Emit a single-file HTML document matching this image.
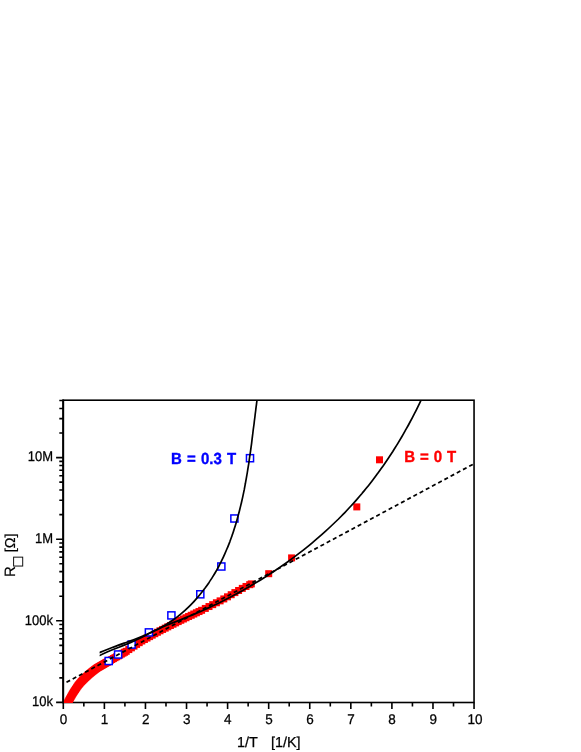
<!DOCTYPE html>
<html><head><meta charset="utf-8"><title>R vs 1/T</title>
<style>
html,body{margin:0;padding:0;background:#fff;}
body{width:581px;height:752px;position:relative;overflow:hidden;font-family:"Liberation Sans",sans-serif;}
</style></head><body>
<svg width="581" height="752" viewBox="0 0 581 752" style="position:absolute;left:0;top:0;will-change:transform" font-family="Liberation Sans, sans-serif" text-rendering="geometricPrecision">
<defs><clipPath id="cp"><rect x="63.849999999999994" y="400.2" width="410.75" height="302.75"/></clipPath><clipPath id="cp2"><rect x="99.6" y="400.2" width="374.45000000000005" height="302.3"/></clipPath></defs>
<rect x="63.3" y="400.2" width="410.75" height="302.3" fill="none" stroke="#000" stroke-width="1.6"/>
<path d="M63.30,702.5 v6.6 M83.84,702.5 v4.1 M104.38,702.5 v6.6 M124.91,702.5 v4.1 M145.45,702.5 v6.6 M165.99,702.5 v4.1 M186.53,702.5 v6.6 M207.06,702.5 v4.1 M227.60,702.5 v6.6 M248.14,702.5 v4.1 M268.68,702.5 v6.6 M289.21,702.5 v4.1 M309.75,702.5 v6.6 M330.29,702.5 v4.1 M350.83,702.5 v6.6 M371.36,702.5 v4.1 M391.90,702.5 v6.6 M412.44,702.5 v4.1 M432.98,702.5 v6.6 M453.51,702.5 v4.1 M474.05,702.5 v6.6 M63.3,702.40 h-7.2 M63.3,677.84 h-4.0 M63.3,663.47 h-4.0 M63.3,653.27 h-4.0 M63.3,645.36 h-4.0 M63.3,638.90 h-4.0 M63.3,633.44 h-4.0 M63.3,628.71 h-4.0 M63.3,624.53 h-4.0 M63.3,620.80 h-7.2 M63.3,596.24 h-4.0 M63.3,581.87 h-4.0 M63.3,571.67 h-4.0 M63.3,563.76 h-4.0 M63.3,557.30 h-4.0 M63.3,551.84 h-4.0 M63.3,547.11 h-4.0 M63.3,542.93 h-4.0 M63.3,539.20 h-7.2 M63.3,514.64 h-4.0 M63.3,500.27 h-4.0 M63.3,490.07 h-4.0 M63.3,482.16 h-4.0 M63.3,475.70 h-4.0 M63.3,470.24 h-4.0 M63.3,465.51 h-4.0 M63.3,461.33 h-4.0 M63.3,457.60 h-7.2 M63.3,433.04 h-4.0 M63.3,418.67 h-4.0 M63.3,408.47 h-4.0 M63.3,400.56 h-4.0" stroke="#000" stroke-width="1.6" fill="none"/>
<path d="M63.15,399.4 V703.3" stroke="#000" stroke-width="1.9" fill="none"/>
<g clip-path="url(#cp)" fill="#ff0000">
<rect x="63.50" y="700.50" width="7" height="7"/>
<rect x="64.10" y="699.39" width="7" height="7"/>
<rect x="64.70" y="698.29" width="7" height="7"/>
<rect x="65.30" y="697.18" width="7" height="7"/>
<rect x="65.90" y="696.08" width="7" height="7"/>
<rect x="66.50" y="694.97" width="7" height="7"/>
<rect x="67.10" y="693.87" width="7" height="7"/>
<rect x="67.70" y="692.79" width="7" height="7"/>
<rect x="68.30" y="691.72" width="7" height="7"/>
<rect x="68.90" y="690.66" width="7" height="7"/>
<rect x="69.50" y="689.69" width="7" height="7"/>
<rect x="70.10" y="688.76" width="7" height="7"/>
<rect x="70.70" y="687.84" width="7" height="7"/>
<rect x="71.30" y="686.92" width="7" height="7"/>
<rect x="71.90" y="686.00" width="7" height="7"/>
<rect x="72.50" y="685.10" width="7" height="7"/>
<rect x="73.10" y="684.20" width="7" height="7"/>
<rect x="73.70" y="683.30" width="7" height="7"/>
<rect x="74.30" y="682.40" width="7" height="7"/>
<rect x="74.90" y="681.62" width="7" height="7"/>
<rect x="75.50" y="680.90" width="7" height="7"/>
<rect x="76.10" y="680.18" width="7" height="7"/>
<rect x="76.70" y="679.46" width="7" height="7"/>
<rect x="77.30" y="678.74" width="7" height="7"/>
<rect x="77.90" y="678.10" width="7" height="7"/>
<rect x="78.50" y="677.50" width="7" height="7"/>
<rect x="79.10" y="676.90" width="7" height="7"/>
<rect x="79.70" y="676.30" width="7" height="7"/>
<rect x="80.30" y="675.70" width="7" height="7"/>
<rect x="80.90" y="675.10" width="7" height="7"/>
<rect x="81.50" y="674.50" width="7" height="7"/>
<rect x="82.10" y="673.95" width="7" height="7"/>
<rect x="82.70" y="673.39" width="7" height="7"/>
<rect x="83.30" y="672.84" width="7" height="7"/>
<rect x="83.90" y="672.28" width="7" height="7"/>
<rect x="84.50" y="671.73" width="7" height="7"/>
<rect x="85.10" y="671.17" width="7" height="7"/>
<rect x="85.70" y="670.64" width="7" height="7"/>
<rect x="86.30" y="670.14" width="7" height="7"/>
<rect x="86.90" y="669.65" width="7" height="7"/>
<rect x="87.50" y="669.15" width="7" height="7"/>
<rect x="88.10" y="668.66" width="7" height="7"/>
<rect x="88.70" y="668.16" width="7" height="7"/>
<rect x="89.30" y="667.67" width="7" height="7"/>
<rect x="89.90" y="667.20" width="7" height="7"/>
<rect x="90.50" y="666.75" width="7" height="7"/>
<rect x="91.10" y="666.30" width="7" height="7"/>
<rect x="91.70" y="665.85" width="7" height="7"/>
<rect x="92.30" y="665.40" width="7" height="7"/>
<rect x="92.90" y="664.95" width="7" height="7"/>
<rect x="93.50" y="664.50" width="7" height="7"/>
<rect x="94.10" y="664.15" width="7" height="7"/>
<rect x="94.70" y="663.81" width="7" height="7"/>
<rect x="95.30" y="663.46" width="7" height="7"/>
<rect x="95.90" y="663.11" width="7" height="7"/>
<rect x="96.50" y="662.77" width="7" height="7"/>
<rect x="97.10" y="662.42" width="7" height="7"/>
<rect x="97.70" y="662.07" width="7" height="7"/>
<rect x="98.30" y="661.73" width="7" height="7"/>
<rect x="98.90" y="661.38" width="7" height="7"/>
<rect x="99.50" y="661.03" width="7" height="7"/>
<rect x="100.10" y="660.68" width="7" height="7"/>
<rect x="100.70" y="660.33" width="7" height="7"/>
<rect x="101.30" y="659.98" width="7" height="7"/>
<rect x="101.90" y="659.63" width="7" height="7"/>
<rect x="102.50" y="659.29" width="7" height="7"/>
<rect x="103.10" y="658.95" width="7" height="7"/>
<rect x="103.70" y="658.61" width="7" height="7"/>
<rect x="104.30" y="658.27" width="7" height="7"/>
<rect x="104.90" y="657.93" width="7" height="7"/>
<rect x="105.50" y="657.59" width="7" height="7"/>
<rect x="106.10" y="657.24" width="7" height="7"/>
<rect x="106.70" y="656.90" width="7" height="7"/>
<rect x="108.30" y="656.00" width="7" height="7"/>
<rect x="109.90" y="655.09" width="7" height="7"/>
<rect x="111.50" y="654.18" width="7" height="7"/>
<rect x="113.10" y="653.27" width="7" height="7"/>
<rect x="114.70" y="652.37" width="7" height="7"/>
<rect x="116.30" y="651.46" width="7" height="7"/>
<rect x="117.90" y="650.55" width="7" height="7"/>
<rect x="119.50" y="649.64" width="7" height="7"/>
<rect x="121.10" y="648.74" width="7" height="7"/>
<rect x="122.70" y="647.80" width="7" height="7"/>
<rect x="125.30" y="646.07" width="7" height="7"/>
<rect x="127.90" y="644.35" width="7" height="7"/>
<rect x="130.50" y="642.62" width="7" height="7"/>
<rect x="133.10" y="640.89" width="7" height="7"/>
<rect x="135.70" y="639.16" width="7" height="7"/>
<rect x="138.30" y="637.48" width="7" height="7"/>
<rect x="140.90" y="636.02" width="7" height="7"/>
<rect x="143.50" y="634.57" width="7" height="7"/>
<rect x="146.10" y="633.11" width="7" height="7"/>
<rect x="148.70" y="631.66" width="7" height="7"/>
<rect x="151.30" y="630.20" width="7" height="7"/>
<rect x="153.90" y="628.75" width="7" height="7"/>
<rect x="156.50" y="627.29" width="7" height="7"/>
<rect x="159.10" y="625.94" width="7" height="7"/>
<rect x="161.70" y="624.63" width="7" height="7"/>
<rect x="164.30" y="623.32" width="7" height="7"/>
<rect x="166.90" y="622.00" width="7" height="7"/>
<rect x="169.50" y="620.69" width="7" height="7"/>
<rect x="172.10" y="619.38" width="7" height="7"/>
<rect x="174.70" y="618.07" width="7" height="7"/>
<rect x="177.30" y="616.75" width="7" height="7"/>
<rect x="179.90" y="615.50" width="7" height="7"/>
<rect x="182.50" y="614.25" width="7" height="7"/>
<rect x="185.10" y="613.01" width="7" height="7"/>
<rect x="187.70" y="611.77" width="7" height="7"/>
<rect x="190.30" y="610.52" width="7" height="7"/>
<rect x="192.90" y="609.28" width="7" height="7"/>
<rect x="195.50" y="608.03" width="7" height="7"/>
<rect x="198.10" y="606.79" width="7" height="7"/>
<rect x="201.80" y="604.92" width="7" height="7"/>
<rect x="205.50" y="603.03" width="7" height="7"/>
<rect x="209.20" y="601.15" width="7" height="7"/>
<rect x="212.90" y="599.26" width="7" height="7"/>
<rect x="216.60" y="597.37" width="7" height="7"/>
<rect x="220.30" y="595.42" width="7" height="7"/>
<rect x="224.00" y="593.31" width="7" height="7"/>
<rect x="227.70" y="591.20" width="7" height="7"/>
<rect x="231.40" y="589.09" width="7" height="7"/>
<rect x="235.10" y="586.98" width="7" height="7"/>
<rect x="238.80" y="584.87" width="7" height="7"/>
<rect x="242.50" y="582.98" width="7" height="7"/>
<rect x="246.20" y="581.18" width="7" height="7"/>
<rect x="247.80" y="580.40" width="7" height="7"/>
<rect x="265.20" y="570.20" width="7" height="7"/>
<rect x="288.10" y="554.40" width="7" height="7"/>
<rect x="353.30" y="503.40" width="7" height="7"/>
<rect x="376.00" y="456.30" width="7" height="7"/>
</g>
<g fill="#ffffff" stroke="#0000ff" stroke-width="1.5">
<rect x="105.15" y="657.45" width="7.1" height="7.1"/>
<rect x="114.55" y="650.95" width="7.1" height="7.1"/>
<rect x="128.05" y="641.05" width="7.1" height="7.1"/>
<rect x="145.35" y="628.85" width="7.1" height="7.1"/>
<rect x="167.85" y="611.85" width="7.1" height="7.1"/>
<rect x="196.75" y="590.75" width="7.1" height="7.1"/>
<rect x="217.80" y="562.95" width="7.1" height="7.1"/>
<rect x="230.85" y="514.95" width="7.1" height="7.1"/>
<rect x="246.45" y="454.65" width="7.1" height="7.1"/>
</g>
<g fill="none" stroke="#000" stroke-width="1.7" clip-path="url(#cp2)">
<path d="M99.0,652.8 C100.0,652.4 103.2,651.0 105.3,650.2 C107.4,649.4 109.5,648.6 111.6,647.8 C113.7,647.0 115.8,646.2 117.9,645.4 C120.0,644.7 122.1,643.9 124.2,643.1 C126.3,642.4 128.4,641.6 130.5,640.9 C132.6,640.1 134.7,639.3 136.7,638.5 C138.8,637.7 140.8,636.9 142.8,636.1 C144.9,635.3 146.9,634.4 148.9,633.5 C150.9,632.6 152.9,631.7 154.8,630.7 C156.8,629.7 158.7,628.7 160.7,627.7 C162.6,626.6 164.5,625.5 166.3,624.4 C168.2,623.2 170.1,622.0 171.9,620.7 C173.7,619.5 175.5,618.2 177.3,616.8 C179.0,615.5 180.7,614.1 182.4,612.6 C184.1,611.2 185.8,609.7 187.4,608.1 C189.1,606.6 190.6,605.0 192.2,603.4 C193.8,601.8 195.3,600.1 196.7,598.4 C198.2,596.8 199.6,595.0 201.0,593.3 C202.4,591.6 203.8,589.8 205.1,588.1 C206.4,586.3 207.7,584.5 208.9,582.7 C210.1,580.8 211.3,579.0 212.5,577.1 C213.7,575.3 214.8,573.4 215.9,571.5 C217.0,569.6 218.0,567.6 219.1,565.7 C220.1,563.8 221.1,561.8 222.0,559.8 C223.0,557.9 223.9,555.9 224.8,553.8 C225.7,551.8 226.6,549.8 227.4,547.8 C228.3,545.7 229.1,543.7 229.9,541.6 C230.6,539.5 231.4,537.5 232.1,535.4 C232.9,533.3 233.6,531.2 234.2,529.0 C234.9,526.9 235.6,524.8 236.2,522.7 C236.8,520.5 237.4,518.4 238.0,516.2 C238.6,514.0 239.2,511.9 239.7,509.7 C240.3,507.5 240.8,505.3 241.3,503.2 C241.8,501.0 242.3,498.8 242.8,496.6 C243.3,494.4 243.7,492.2 244.2,489.9 C244.6,487.7 245.0,485.5 245.4,483.3 C245.8,481.1 246.2,478.9 246.6,476.6 C247.0,474.4 247.4,472.2 247.7,470.0 C248.1,467.7 248.4,465.5 248.8,463.3 C249.1,461.1 249.4,458.8 249.7,456.6 C250.1,454.4 250.4,452.1 250.7,449.9 C251.0,447.7 251.3,445.5 251.6,443.3 C251.9,441.1 252.1,438.8 252.4,436.6 C252.7,434.4 253.0,432.2 253.2,430.0 C253.5,427.8 253.8,425.7 254.1,423.5 C254.3,421.3 254.6,419.1 254.9,417.0 C255.1,414.8 255.4,412.6 255.7,410.5 C255.9,408.3 256.2,406.2 256.5,404.1 C256.7,401.9 257.2,398.8 257.3,397.7"/>
<path d="M99.1,655.8 C100.4,655.1 104.4,653.2 107.1,652.0 C109.7,650.9 112.4,649.8 115.0,648.8 C117.7,647.7 120.3,646.7 123.0,645.6 C125.6,644.6 128.3,643.5 130.9,642.4 C133.5,641.3 136.2,640.1 138.8,638.8 C141.5,637.5 144.1,636.1 146.7,634.7 C149.4,633.3 152.0,631.8 154.7,630.5 C157.3,629.2 160.0,628.0 162.6,626.8 C165.2,625.7 167.9,624.7 170.5,623.6 C173.2,622.6 175.8,621.6 178.5,620.6 C181.1,619.5 183.7,618.5 186.4,617.4 C189.0,616.3 191.7,615.2 194.3,614.1 C196.9,613.0 199.6,611.8 202.2,610.7 C204.8,609.5 207.4,608.3 210.1,607.1 C212.7,605.9 215.3,604.6 217.9,603.4 C220.5,602.1 223.1,600.8 225.7,599.5 C228.3,598.2 230.8,596.9 233.4,595.5 C236.0,594.1 238.5,592.8 241.1,591.3 C243.6,589.9 246.2,588.5 248.7,587.0 C251.2,585.6 253.7,584.1 256.2,582.6 C258.7,581.1 261.2,579.6 263.7,578.0 C266.1,576.5 268.6,574.9 271.0,573.3 C273.4,571.7 275.9,570.1 278.2,568.4 C280.6,566.8 283.0,565.2 285.4,563.5 C287.7,561.8 290.1,560.1 292.4,558.4 C294.7,556.7 297.0,554.9 299.3,553.1 C301.6,551.4 303.9,549.6 306.1,547.8 C308.4,546.0 310.6,544.2 312.8,542.3 C315.0,540.5 317.2,538.6 319.4,536.7 C321.6,534.8 323.7,532.9 325.9,530.9 C328.0,529.0 330.1,527.0 332.2,525.0 C334.3,523.0 336.4,521.0 338.5,519.0 C340.5,517.0 342.5,514.9 344.6,512.8 C346.6,510.8 348.5,508.7 350.5,506.5 C352.5,504.4 354.4,502.3 356.3,500.1 C358.2,497.9 360.1,495.7 362.0,493.5 C363.8,491.3 365.7,489.1 367.5,486.8 C369.3,484.5 371.1,482.3 372.8,480.0 C374.6,477.7 376.3,475.3 378.0,473.0 C379.8,470.7 381.4,468.3 383.1,465.9 C384.8,463.6 386.4,461.2 388.0,458.8 C389.6,456.3 391.2,453.9 392.8,451.5 C394.3,449.0 395.9,446.6 397.4,444.1 C398.9,441.6 400.4,439.1 401.8,436.7 C403.3,434.2 404.7,431.6 406.1,429.1 C407.6,426.6 409.0,424.1 410.3,421.5 C411.7,419.0 413.0,416.4 414.3,413.8 C415.7,411.3 417.0,408.7 418.2,406.1 C419.5,403.5 421.3,399.6 422.0,398.3"/>
</g>
<path d="M66.5,682.3 L474.8,463.3" stroke-dasharray="4.05 2.98" fill="none" stroke="#000" stroke-width="1.75"/>
<g font-size="13.5" fill="#000" stroke="#000" stroke-width="0.25" text-anchor="middle">
<text transform="translate(63.50,723.6) scale(1,1.04)">0</text>
<text transform="translate(104.58,723.6) scale(1,1.04)">1</text>
<text transform="translate(145.65,723.6) scale(1,1.04)">2</text>
<text transform="translate(186.72,723.6) scale(1,1.04)">3</text>
<text transform="translate(227.80,723.6) scale(1,1.04)">4</text>
<text transform="translate(268.88,723.6) scale(1,1.04)">5</text>
<text transform="translate(309.95,723.6) scale(1,1.04)">6</text>
<text transform="translate(351.03,723.6) scale(1,1.04)">7</text>
<text transform="translate(392.10,723.6) scale(1,1.04)">8</text>
<text transform="translate(433.18,723.6) scale(1,1.04)">9</text>
<text transform="translate(474.95,723.6) scale(1,1.04)">10</text>
</g>
<g font-size="13" fill="#000" stroke="#000" stroke-width="0.25" text-anchor="end">
<text transform="translate(53,706.10) scale(1,1.08)">10k</text>
<text transform="translate(53,624.50) scale(1,1.08)">100k</text>
<text transform="translate(53,542.90) scale(1,1.08)">1M</text>
<text transform="translate(53,461.30) scale(1,1.08)">10M</text>
</g>
<text x="237.0" y="747.4" font-size="14.4" stroke="#000" stroke-width="0.25">1/T</text>
<text x="270.9" y="747.4" font-size="14.4" stroke="#000" stroke-width="0.25">[1/K]</text>
<g transform="translate(15.6,577) rotate(-90)" font-size="14" stroke="#000" stroke-width="0.2">
<text x="0.1" y="-0.3" font-size="15">R</text>
<rect x="10.95" y="-2.0" width="8.9" height="9.1" fill="none" stroke="#111" stroke-width="1.0"/>
<text x="24.8" y="-0.7" font-size="14.4">[Ω]</text>
</g>
<text transform="translate(171.1,463.6) scale(1,1.075)" font-size="15" font-weight="bold" fill="#0000ff" stroke="#0000ff" stroke-width="0.35" word-spacing="1">B = 0.3 T</text>
<text transform="translate(404.2,461.7) scale(1,1.075)" font-size="15" font-weight="bold" fill="#ff0000" stroke="#ff0000" stroke-width="0.35" word-spacing="0.75">B = 0 T</text>
</svg>
</body></html>
